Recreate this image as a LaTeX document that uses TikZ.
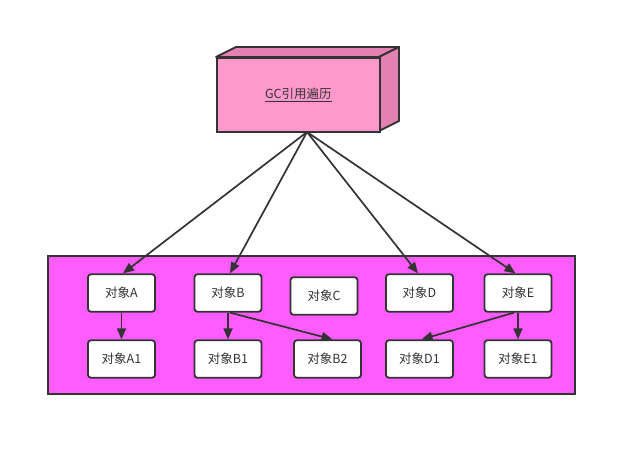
\documentclass[tikz,border=0pt]{standalone}
\usepackage{fontspec}
\setmainfont{Noto Sans CJK SC}
\usetikzlibrary{arrows.meta}
\definecolor{ink}{HTML}{333333}
\definecolor{frontpink}{HTML}{FF99CC}
\definecolor{sidepink}{HTML}{E580B2}
\definecolor{heap}{HTML}{FF5CFF}
\begin{document}
\begin{tikzpicture}[x=1pt,y=-1pt,
  obj/.style={draw=ink,fill=white,line width=1.8pt,rounded corners=3pt,minimum width=67pt,minimum height=37.5pt,inner sep=0pt,font=\fontsize{12.5}{14}\selectfont,text=ink},
  conn/.style={draw=ink,line width=1.7pt,-{Triangle[length=11pt,width=9pt]}}]
\useasboundingbox (0,0) rectangle (636,457);
% heap area
\path[draw=ink,fill=heap,line width=1.8pt] (48,256) rectangle (575,394);
% 3D box
\path[draw=ink,fill=sidepink,line width=1.8pt,line join=round] (216,57) -- (236,47) -- (399,47) -- (379,57) -- cycle;
\path[draw=ink,fill=sidepink,line width=1.8pt,line join=round] (379,57) -- (399,47) -- (399,121) -- (379,131) -- cycle;
\node[draw=ink,fill=frontpink,line width=1.8pt,minimum width=163pt,minimum height=74pt,inner sep=0pt,anchor=north west,font=\fontsize{12.5}{14}\selectfont,text=ink] (gc) at (216,57) {\underline{GC引用遍历}};
\coordinate (src) at (307,132);
% objects
\node[obj] (A) at (121.5,293) {对象A};
\node[obj] (B) at (228,293) {对象B};
\node[obj] (C) at (324,296) {对象C};
\node[obj] (D) at (419.5,293) {对象D};
\node[obj] (E) at (518,293) {对象E};
\node[obj] (A1) at (121.5,359) {对象A1};
\node[obj] (B1) at (228,359) {对象B1};
\node[obj] (B2) at (327.5,359) {对象B2};
\node[obj] (D1) at (419.5,359) {对象D1};
\node[obj] (E1) at (518,359) {对象E1};
% connectors
\draw[conn] (src) -- ([xshift=1.5pt]A.north);
\draw[conn] (src) -- ([xshift=2pt]B.north);
\draw[conn] (src) -- ([xshift=-1.5pt]D.north);
\draw[conn] (src) -- ([xshift=-2.5pt]E.north);
\draw[conn] (A.south) -- (A1.north);
\draw[conn] (B.south) -- (B1.north);
\draw[conn] ([xshift=2pt]B.south) -- ([xshift=5pt]B2.north);
\draw[conn] ([xshift=-4pt]E.south) -- ([xshift=2pt]D1.north);
\draw[conn] (E.south) -- (E1.north);
\end{tikzpicture}
\end{document}
